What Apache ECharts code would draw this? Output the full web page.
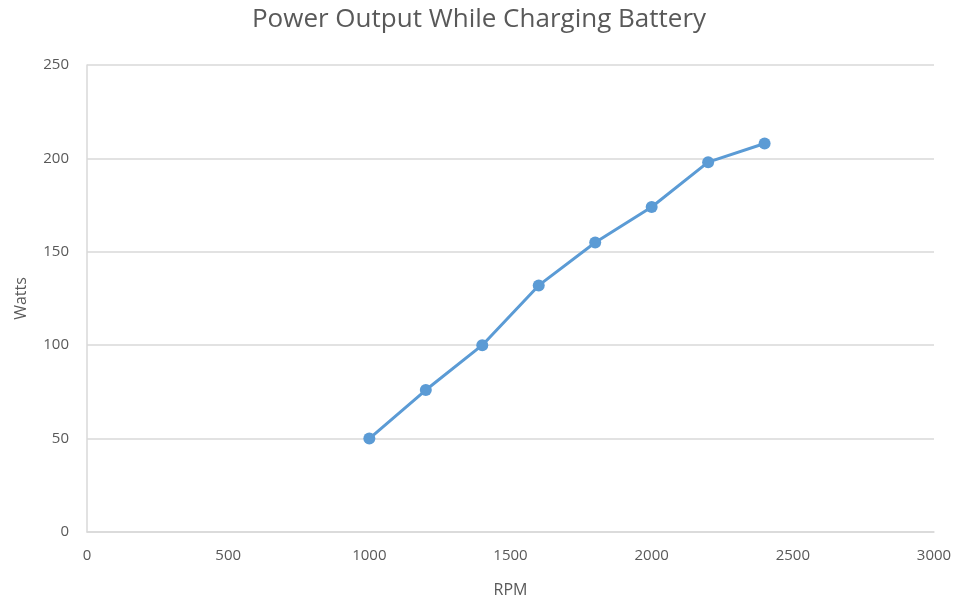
<!DOCTYPE html>
<html>
<head>
<meta charset="utf-8">
<script src="https://cdn.jsdelivr.net/npm/echarts@6/dist/echarts.min.js"></script>
<style>
  html, body { margin: 0; padding: 0; background: #fff; }
  #chart { width: 958px; height: 600px; }
</style>
</head>
<body>
<div id="chart"></div>
<script>
// Measured engine speed and electrical output while charging
const rpm = [1000, 1200, 1400, 1600, 1800, 2000, 2200, 2400];
const watts = [50, 76, 100, 132, 155, 174, 198, 208];

const FONT = '"Open Sans", "Liberation Sans", sans-serif';
const TEXT = '#595959';
const GRID = '#d9d9d9';

const chart = echarts.init(document.getElementById('chart'));
chart.setOption({
  animation: false,
  title: {
    text: 'Power Output While Charging Battery',
    left: 'center',
    top: 2,
    textStyle: { fontFamily: FONT, fontSize: 26, fontWeight: 'normal', color: TEXT }
  },
  grid: { left: 87, right: 24, top: 65, bottom: 68, outerBoundsMode: 'none', containLabel: false },
  xAxis: {
    type: 'value',
    min: 0, max: 3000, interval: 500,
    name: 'RPM', nameLocation: 'middle', nameGap: 50,
    nameTextStyle: { fontFamily: FONT, fontSize: 16, color: TEXT },
    axisLine: { show: true, lineStyle: { color: GRID, width: 1.5 } },
    axisTick: { show: false },
    splitLine: { show: false },
    axisLabel: { fontFamily: FONT, fontSize: 15, color: TEXT, margin: 16, formatter: v => String(v) }
  },
  yAxis: {
    type: 'value',
    min: 0, max: 250, interval: 50,
    name: 'Watts', nameLocation: 'middle', nameGap: 58, nameRotate: 90,
    nameTextStyle: { fontFamily: FONT, fontSize: 16, color: TEXT },
    axisLine: { show: true, lineStyle: { color: GRID, width: 1.5 } },
    axisTick: { show: false },
    splitLine: { show: true, lineStyle: { color: GRID, width: 1.5 } },
    axisLabel: { fontFamily: FONT, fontSize: 15, color: TEXT, margin: 18 }
  },
  series: [{
    type: 'line',
    data: rpm.map((r, i) => [r, watts[i]]),
    symbol: 'circle',
    symbolSize: 12,
    lineStyle: { color: '#5b9bd5', width: 3 },
    itemStyle: { color: '#5b9bd5' }
  }]
});
</script>
</body>
</html>
